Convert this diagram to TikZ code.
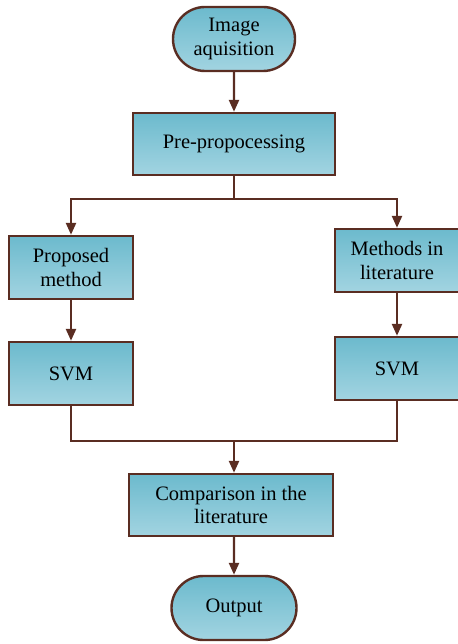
\documentclass[tikz,border=0pt]{standalone}
\usepackage{fontspec}
\setmainfont{Liberation Serif}
\usepackage{tikz}
\usetikzlibrary{arrows.meta,shapes.misc}
\definecolor{boxtop}{HTML}{6CBACD}
\definecolor{boxbottom}{HTML}{A2D4E1}
\definecolor{edgebrown}{HTML}{5A2D22}

\begin{document}
\begin{tikzpicture}[
  x=1pt, y=-1pt,
  line width=2.4pt,
  arrow/.style={draw=edgebrown, -{Triangle[width=10pt,length=12pt]}},
  link/.style={draw=edgebrown}
  ]
  \tikzset{every node/.style={font=\fontsize{20.5}{23.5}\selectfont, align=center, inner sep=0pt}}
  \tikzset{process/.style={rectangle, draw=edgebrown, top color=boxtop, bottom color=boxbottom, minimum height=62pt}}
  \tikzset{terminal/.style={rounded rectangle, rounded rectangle arc length=180, draw=edgebrown, top color=boxtop, bottom color=boxbottom, minimum width=122pt, minimum height=64pt}}
  \useasboundingbox (0,0) rectangle (457,644);

  \node[terminal] (img) at (234,39) {Image\\aquisition};
  \node[process, minimum width=202pt] (pre) at (234,144) {Pre-propocessing};
  \node[process, minimum width=124pt, minimum height=63pt] (pm) at (71,267.5) {Proposed\\method};
  \node[process, minimum width=124pt, minimum height=63pt] (ml) at (397,260.5) {Methods in\\literature};
  \node[process, minimum width=124pt, minimum height=63pt] (svml) at (71,373.5) {SVM};
  \node[process, minimum width=124pt, minimum height=63pt] (svmr) at (397,368.5) {SVM};
  \node[process, minimum width=204pt] (comp) at (231,505) {Comparison in the\\literature};
  \node[terminal, minimum width=125pt] (out) at (234,608) {Output};

  \coordinate (split) at (234,199);
  \coordinate (merge) at (234,441);

  \draw[arrow] (img) -- (pre);
  \draw[link] (pre.south) -- (split);
  \draw[arrow] (split) -| (pm.north);
  \draw[arrow] (split) -| (ml.north);
  \draw[arrow] (pm) -- (svml);
  \draw[arrow] (ml) -- (svmr);
  \draw[link] (svml.south) |- (merge);
  \draw[link] (svmr.south) |- (merge);
  \draw[arrow] (merge) -- (merge |- comp.north);
  \draw[arrow] (comp.south -| out) -- (out);

\end{tikzpicture}
\end{document}
